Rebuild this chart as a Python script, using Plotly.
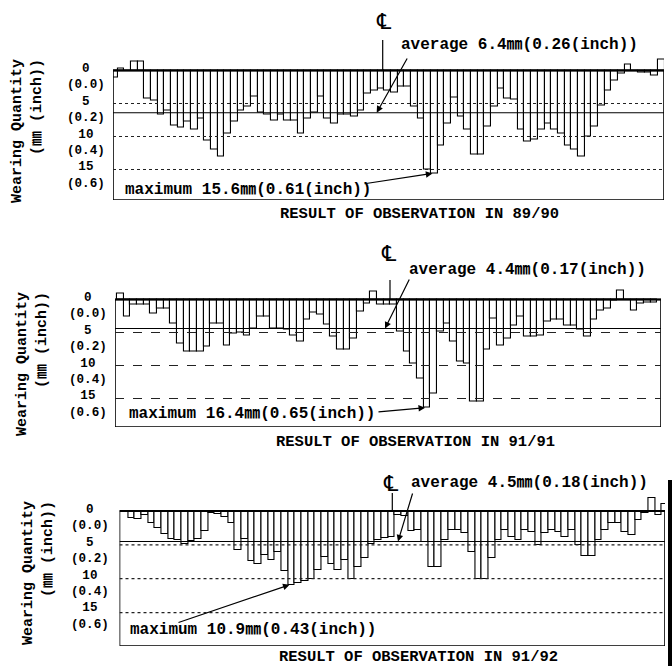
import plotly.graph_objects as go

W, H = 672, 666

# ---------------- data (mm of wear; negative = build-up above the zero line) ----------------
p1_first = -5
p1_wear = [1.0, -0.3, 0.0, -1.4, -1.4,
           4.3, 4.6, 6.7, 6.0, 8.4, 8.6, 7.8, 9.0, 7.2, 10.6,
           12.0, 13.1, 9.5, 7.8, 6.0, 5.4, 3.9, 6.4, 6.7, 7.6,
           6.7, 7.6, 7.6, 9.5, 7.2, 6.4, 4.0, 7.2, 8.1, 6.7,
           6.7, 7.0, 6.0, 3.5, 3.0, 2.8, 3.0, 3.4, 2.4, 2.4,
           5.5, 7.2, 15.0, 15.6, 11.3, 8.0, 4.1, 7.0, 8.9, 12.8,
           12.8, 8.5, 5.5, 2.7, 4.2, 4.4, 9.0, 10.7, 10.4, 9.0,
           8.0, 9.0, 9.5, 11.3, 12.0, 13.1, 10.0, 8.5, 5.3, 3.0,
           1.5, 0.5, -0.9, 0.0, 0.3, 0.3, 0.7, -1.6]
p1_avg = 6.4

p2_first = -9
p2_wear = [-0.9, 2.5, 0.7, 0.7, 0.8, 2.1, 1.3, 1.3, 3.6,
           6.6, 7.9, 7.9, 7.9, 7.1, 3.6, 3.6, 6.9, 5.1, 5.0,
           5.4, 4.4, 2.5, 2.5, 4.4, 4.4, 4.5, 5.4, 6.4, 3.1,
           2.0, 2.2, 3.8, 5.6, 7.5, 7.5, 5.9, 1.8, 0.6, -1.2,
           0.8, 0.8, 0.8, 4.9, 7.9, 9.7, 12.0, 16.4, 14.2, 4.9,
           3.6, 6.4, 9.4, 9.7, 15.5, 15.5, 7.6, 2.9, 6.9, 5.9,
           3.9, 2.6, 5.6, 5.6, 5.4, 3.4, 3.1, 3.1, 3.9, 3.9,
           4.6, 5.6, 3.1, 1.6, 1.3, 0.1, -1.3, 0.0, 1.6, 0.6,
           0.5, 0.4]
p2_avg = 4.4

p3_first = 0
p3_wear = [0.2, 1.0, 1.2, 0.6, 1.7, 2.5, 3.4, 4.2, 4.3, 4.9,
           4.5, 4.2, 2.9, 0.3, 0.4, 0.9, 1.8, 5.7, 4.2, 7.4,
           7.8, 6.5, 7.3, 6.0, 8.9, 10.9, 10.6, 10.4, 10.1, 8.7,
           6.8, 7.8, 8.7, 7.2, 10.0, 8.2, 7.0, 4.8, 4.3, 4.0,
           3.8, 0.6, 0.7, 3.0, 2.8, 4.6, 8.2, 8.2, 4.3, 2.8,
           2.8, 3.3, 6.0, 10.0, 10.0, 7.0, 4.3, 2.8, 3.8, 4.3,
           2.8, 3.1, 5.0, 3.3, 2.8, 3.1, 3.8, 2.8, 5.0, 6.6,
           6.6, 4.3, 2.8, 1.8, 1.8, 3.1, 3.5, 1.3, 0.3, -1.9,
           0.6, -1.1]
p3_avg = 4.5

tick_mm = [0, 5, 10, 15]
tick_mm_text = ["0", "5", "10", "15"]
tick_inch_text = ["(0.0)", "(0.2)", "(0.4)", "(0.6)"]

titles = ["RESULT OF OBSERVATION IN 89/90",
          "RESULT OF OBSERVATION IN 91/91",
          "RESULT OF OBSERVATION IN 91/92"]
avg_texts = ["average 6.4㎜(0.26(inch))",
             "average 4.4㎜(0.17(inch))",
             "average 4.5㎜(0.18(inch))"]
max_texts = ["maximum 15.6㎜(0.61(inch))",
             "maximum 16.4㎜(0.65(inch))",
             "maximum 10.9㎜(0.43(inch))"]
ytitle_lines = ["Wearing Quantity", "(㎜ (inch))"]
cl_symbol = "℄"

# ---------------- layout geometry (pixels) ----------------
panels = [
    dict(first=p1_first, wear=p1_wear, avg=p1_avg, left=113, right=664, zero=70.5, bottom=200,
         ppmm=6.6, bar0=144.3, grid_dash="dot",
         tick_x=86, ytitle=(27, 131),
         cl=(384, 21), cl_line=(382.7, 40),
         avg_head_x=376.7, avg_tail=(408, 57), avg_text=(399, 45),
         max_tail=(363, 184), max_text=(123, 190), title=(419, 214)),
    dict(first=p2_first, wear=p2_wear, avg=p2_avg, left=115, right=661, zero=299.5, bottom=427,
         ppmm=6.6, bar0=177.0, grid_dash="dash",
         tick_x=88, ytitle=(32, 364),
         cl=(389, 253), cl_line=(390, 280),
         avg_head_x=385, avg_tail=(410, 278), avg_text=(407, 270),
         max_tail=(377, 412), max_text=(127, 414), title=(415, 442)),
    dict(first=p3_first, wear=p3_wear, avg=p3_avg, left=119.5, right=665, zero=511, bottom=646,
         ppmm=6.77, bar0=121.5, grid_dash="dot",
         tick_x=90, ytitle=(38, 573),
         cl=(391, 483), cl_line=(392.3, 493),
         avg_head_x=398, avg_tail=(413, 492), avg_text=(409, 483),
         max_tail=(177, 623), max_text=(128, 630), title=(418, 657)),
]
BAR_PX = 6.67
FONT = "Liberation Mono, Noto Sans CJK JP, monospace"
TICK_FS = 12.6

def px(x):
    return x / W

def py(y):
    return 1 - y / H

fig = go.Figure()
shapes = []
annotations = []

tick_block = "<br>".join(f"{m}<br>{t}" for m, t in zip(tick_mm_text, tick_inch_text))
ytitle_text = "<br>".join(ytitle_lines)

for i, p in enumerate(panels):
    sfx = "" if i == 0 else str(i + 1)
    xa, ya = "x" + sfx, "y" + sfx
    xmin = (p["left"] - p["bar0"]) / BAR_PX
    xmax = (p["right"] - p["bar0"]) / BAR_PX
    top_px = p["zero"] - 17
    ytop = -(p["zero"] - top_px) / p["ppmm"]
    ybot = (p["bottom"] - p["zero"]) / p["ppmm"]
    xs = [p["first"] + j + 0.5 for j in range(len(p["wear"]))]

    fig.add_trace(go.Bar(x=xs, y=p["wear"], width=1.0, xaxis=xa, yaxis=ya,
                         marker=dict(color="white", line=dict(color="black", width=1.1)),
                         showlegend=False, hoverinfo="skip"))

    fig.layout["xaxis" + sfx] = dict(domain=[px(p["left"]), px(p["right"])], range=[xmin, xmax],
                                     visible=False, anchor=ya, fixedrange=True)
    fig.layout["yaxis" + sfx] = dict(domain=[py(p["bottom"]), py(top_px)], range=[ybot, ytop],
                                     visible=False, anchor=xa, fixedrange=True)

    # frame
    shapes.append(dict(type="rect", xref=xa, yref=ya, x0=xmin, x1=xmax, y0=0, y1=ybot,
                       line=dict(color="black", width=1.6), fillcolor="rgba(0,0,0,0)"))
    shapes.append(dict(type="line", xref=xa, yref=ya, x0=xmin, x1=xmax, y0=0, y1=0,
                       line=dict(color="black", width=2.2)))
    # grid lines
    for v in tick_mm[1:]:
        shapes.append(dict(type="line", xref=xa, yref=ya, x0=xmin, x1=xmax, y0=v, y1=v,
                           line=dict(color="#222", width=1.2, dash=p["grid_dash"])))
    # average line
    shapes.append(dict(type="line", xref=xa, yref=ya, x0=xmin, x1=xmax, y0=p["avg"], y1=p["avg"],
                       line=dict(color="black", width=1.1)))
    # centre line tick
    shapes.append(dict(type="line", xref="paper", yref="paper",
                       x0=px(p["cl_line"][0]), x1=px(p["cl_line"][0]),
                       y0=py(p["cl_line"][1]), y1=py(p["zero"]),
                       line=dict(color="black", width=1.2)))

    # tick labels (mm with inch below), one text block whose first line sits on the zero line
    line_h = TICK_FS * 1.3
    annotations.append(dict(xref="paper", yref="paper", x=px(p["tick_x"]),
                            y=py(p["zero"] - line_h / 2 - 1), text=tick_block,
                            showarrow=False, xanchor="center", yanchor="top", align="center",
                            borderpad=0,
                            font=dict(family=FONT, size=TICK_FS, color="black", weight="bold")))
    # y title (two lines, end-aligned)
    annotations.append(dict(xref="paper", yref="paper", x=px(p["ytitle"][0]), y=py(p["ytitle"][1]),
                            text=ytitle_text, textangle=-90, showarrow=False, align="right",
                            xanchor="center", yanchor="middle",
                            font=dict(family=FONT, size=15, color="black", weight="bold")))
    # centre line symbol
    annotations.append(dict(xref="paper", yref="paper", x=px(p["cl"][0]), y=py(p["cl"][1]),
                            text=cl_symbol, showarrow=False, xanchor="center", yanchor="middle",
                            font=dict(family="DejaVu Serif, DejaVu Sans", size=22, color="black")))
    # average text + arrow
    annotations.append(dict(xref="paper", yref="paper", x=px(p["avg_text"][0]), y=py(p["avg_text"][1]),
                            text=avg_texts[i], showarrow=False, xanchor="left", yanchor="middle",
                            font=dict(family=FONT, size=16, color="black", weight="bold")))
    head_y_px = p["zero"] + p["avg"] * p["ppmm"]
    annotations.append(dict(xref=xa, yref=ya, x=(p["avg_head_x"] - p["bar0"]) / BAR_PX, y=p["avg"],
                            text="", showarrow=True, arrowhead=2, arrowsize=1.1, arrowwidth=1.2,
                            arrowcolor="black", axref="pixel", ayref="pixel",
                            ax=p["avg_tail"][0] - p["avg_head_x"], ay=p["avg_tail"][1] - head_y_px))
    # maximum text + arrow
    annotations.append(dict(xref="paper", yref="paper", x=px(p["max_text"][0]), y=py(p["max_text"][1]),
                            text=max_texts[i], showarrow=False, xanchor="left", yanchor="middle",
                            font=dict(family=FONT, size=16, color="black", weight="bold")))
    jmax = max(range(len(p["wear"])), key=lambda j: p["wear"][j])
    mx = p["first"] + jmax + 0.2
    mv = p["wear"][jmax]
    head_x_px = p["bar0"] + mx * BAR_PX
    head_y_px = p["zero"] + mv * p["ppmm"]
    annotations.append(dict(xref=xa, yref=ya, x=mx, y=mv,
                            text="", showarrow=True, arrowhead=2, arrowsize=1.1, arrowwidth=1.2,
                            arrowcolor="black", axref="pixel", ayref="pixel",
                            ax=p["max_tail"][0] - head_x_px, ay=p["max_tail"][1] - head_y_px))
    # panel title
    annotations.append(dict(xref="paper", yref="paper", x=px(p["title"][0]), y=py(p["title"][1]),
                            text=titles[i], showarrow=False, xanchor="center", yanchor="middle",
                            font=dict(family=FONT, size=15.5, color="black", weight="bold")))

# scan edge on the right of the last panel
shapes.append(dict(type="rect", xref="paper", yref="paper", x0=px(668), x1=px(672),
                   y0=py(666), y1=py(480), fillcolor="black", line=dict(width=0)))

fig.update_layout(width=W, height=H, margin=dict(l=0, r=0, t=0, b=0),
                  paper_bgcolor="white", plot_bgcolor="rgba(0,0,0,0)",
                  bargap=0, shapes=shapes, annotations=annotations, showlegend=False)

fig.write_html("out.html", config={"displayModeBar": False},
               post_script="document.body.style.margin='0px';document.body.style.overflow='hidden';")
